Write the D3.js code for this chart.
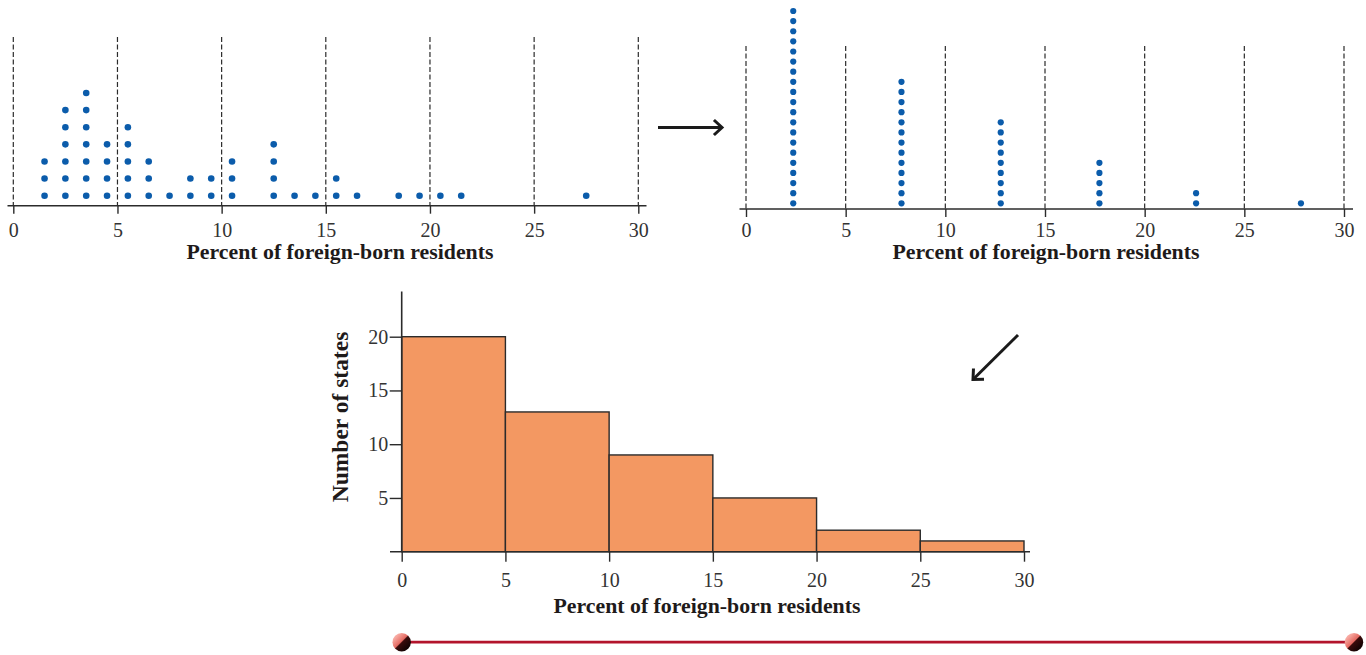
<!DOCTYPE html>
<html>
<head>
<meta charset="utf-8">
<script src="https://cdn.jsdelivr.net/npm/d3@7/dist/d3.min.js"></script>
<style>
  html, body { margin: 0; padding: 0; background: #fff; }
  svg { display: block; }
</style>
</head>
<body>
<svg id="chart" width="1366" height="655"></svg>
<script>
// ---------- DATA ----------
// Detailed dotplot (one dot per state, 1-percent classes)
const dotValues = [1.5, 2.5, 3.5, 4.5, 5.5, 6.5, 7.5, 8.5, 9.5, 10.5, 12.5, 13.5, 14.5, 15.5, 16.5, 18.5, 19.5, 20.5, 21.5, 27.5];
const dotCounts = [3, 6, 7, 4, 5, 3, 1, 2, 2, 3, 4, 1, 1, 2, 1, 1, 1, 1, 1, 1];
// Grouped dotplot (5-percent classes)
const groupPositions = [2.37, 7.8, 12.78, 17.73, 22.58, 27.84];
const groupCounts = [20, 13, 9, 5, 2, 1];
// Histogram
const binEdges = [0, 5, 10, 15, 20, 25, 30];
const binCounts = [20, 13, 9, 5, 2, 1];
const xTicks = [0, 5, 10, 15, 20, 25, 30];
const yTicks = [5, 10, 15, 20];
const xLabel = "Percent of foreign-born residents";
const yLabel = "Number of states";

// ---------- DRAWING ----------
const SERIF = "'Liberation Serif', 'Times New Roman', Times, 'DejaVu Serif', serif";
const svg = d3.select("#chart");
const ink = "#2b2b2b";
const dotColor = "#0b5cab";

function styleTickText(sel) {
  sel.attr("fill", "#333")
    .style("font-family", SERIF).style("font-size", "20px");
}
function styleTitle(sel, size) {
  sel.style("font-family", SERIF).style("font-size", size + "px")
    .style("font-weight", "bold").attr("fill", "#1e1a1a");
}

function dotPanel(opts) {
  const g = svg.append("g");
  const x = d3.scaleLinear().domain([0, 30]).range(opts.xRange);
  g.selectAll("line.guide").data(xTicks).join("line")
    .attr("x1", d => x(d)).attr("x2", d => x(d))
    .attr("y1", opts.guideTop).attr("y2", opts.axisY)
    .attr("stroke", ink).attr("stroke-width", 1.2)
    .attr("stroke-dasharray", "5,2.5");
  const axis = d3.axisBottom(x).tickValues(xTicks).tickSize(8).tickPadding(opts.pad).tickSizeOuter(0);
  const ag = g.append("g").attr("transform", `translate(0,${opts.axisY})`).call(axis);
  ag.attr("font-family", null).attr("font-size", null);
  ag.select(".domain").remove();
  ag.selectAll(".tick line").attr("stroke", ink).attr("stroke-width", 1.4);
  styleTickText(ag.selectAll(".tick text"));
  g.append("line").attr("x1", opts.axisExtent[0]).attr("x2", opts.axisExtent[1])
    .attr("y1", opts.axisY).attr("y2", opts.axisY)
    .attr("stroke", ink).attr("stroke-width", 1.5);
  const t = g.append("text").attr("x", opts.labelX).attr("y", opts.labelY)
    .attr("text-anchor", "middle").text(xLabel);
  styleTitle(t, 21.8);
  return { g, x };
}

// Left dotplot
{
  const { g, x } = dotPanel({ xRange: [13.3, 638.3], axisY: 205.7, guideTop: 37, axisExtent: [7.5, 646.5], labelX: 340, labelY: 259, pad: 9 });
  const y = d3.scaleLinear().domain([0, 7]).range([212.8, 93]);
  const pts = [];
  dotValues.forEach((v, i) => { for (let k = 1; k <= dotCounts[i]; k++) pts.push({ v, k }); });
  g.selectAll("circle").data(pts).join("circle")
    .attr("cx", d => x(d.v)).attr("cy", d => y(d.k)).attr("r", 3.3).attr("fill", dotColor);
}

// Right dotplot
{
  const { g, x } = dotPanel({ xRange: [746, 1344], axisY: 209, guideTop: 46, axisExtent: [739.5, 1353], labelX: 1046, labelY: 259, pad: 6 });
  const y = d3.scaleLinear().domain([0, 20]).range([213.4, 11]);
  const pts = [];
  groupPositions.forEach((v, i) => { for (let k = 1; k <= groupCounts[i]; k++) pts.push({ v, k }); });
  g.selectAll("circle").data(pts).join("circle")
    .attr("cx", d => x(d.v)).attr("cy", d => y(d.k)).attr("r", 3.1).attr("fill", dotColor);
}

// Histogram
{
  const g = svg.append("g");
  const x = d3.scaleLinear().domain([0, 30]).range([401.7, 1024]);
  const y = d3.scaleLinear().domain([0, 20]).range([551.7, 336.7]);
  const bins = binCounts.map((c, i) => ({ x0: binEdges[i], x1: binEdges[i + 1], c }));
  g.selectAll("rect").data(bins).join("rect")
    .attr("x", d => x(d.x0)).attr("width", d => x(d.x1) - x(d.x0))
    .attr("y", d => y(d.c)).attr("height", d => y(0) - y(d.c))
    .attr("fill", "#f39862").attr("stroke", ink).attr("stroke-width", 1.4);
  const xa = d3.axisBottom(x).tickValues(xTicks).tickSize(10).tickPadding(11).tickSizeOuter(0);
  const xg = g.append("g").attr("transform", `translate(0,${y(0)})`).call(xa);
  xg.attr("font-family", null).attr("font-size", null);
  xg.select(".domain").remove();
  xg.selectAll(".tick line").attr("stroke", ink).attr("stroke-width", 1.4);
  styleTickText(xg.selectAll(".tick text"));
  g.append("line").attr("x1", 390).attr("x2", 1030).attr("y1", y(0)).attr("y2", y(0))
    .attr("stroke", ink).attr("stroke-width", 1.6);
  const ya = d3.axisLeft(y).tickValues(yTicks).tickSize(12).tickPadding(1.5).tickSizeOuter(0);
  const yg = g.append("g").attr("transform", `translate(${x(0)},0)`).call(ya);
  yg.attr("font-family", null).attr("font-size", null);
  yg.select(".domain").remove();
  yg.selectAll(".tick line").attr("stroke", ink).attr("stroke-width", 1.4);
  styleTickText(yg.selectAll(".tick text"));
  g.append("line").attr("x1", x(0)).attr("x2", x(0)).attr("y1", y(24.2)).attr("y2", y(0))
    .attr("stroke", ink).attr("stroke-width", 1.6);
  const t1 = g.append("text").attr("x", 707).attr("y", 612.5)
    .attr("text-anchor", "middle").text(xLabel);
  styleTitle(t1, 21.8);
  const t2 = g.append("text").attr("transform", "translate(348,417) rotate(-90)")
    .attr("text-anchor", "middle").text(yLabel);
  styleTitle(t2, 23.5);
}

// Arrows
function arrow(x1, y1, x2, y2) {
  const a = Math.atan2(y2 - y1, x2 - x1);
  const L = 11, spread = Math.PI / 4.2;
  svg.append("line").attr("x1", x1).attr("y1", y1).attr("x2", x2).attr("y2", y2)
    .attr("stroke", "#1a1a1a").attr("stroke-width", 3);
  const p = [
    [x2 - L * Math.cos(a - spread), y2 - L * Math.sin(a - spread)],
    [x2, y2],
    [x2 - L * Math.cos(a + spread), y2 - L * Math.sin(a + spread)]
  ];
  svg.append("path").attr("d", d3.line()(p)).attr("fill", "none")
    .attr("stroke", "#1a1a1a").attr("stroke-width", 3).attr("stroke-linejoin", "miter");
}
arrow(658, 127.5, 722, 127.5);
arrow(1018, 335, 973, 379.5);

// Bottom rule with spheres
const defs = svg.append("defs");
const grad = defs.append("linearGradient").attr("id", "ball")
  .attr("x1", "20%").attr("y1", "20%").attr("x2", "80%").attr("y2", "80%");
[["0%", "#f7a8a0"], ["45%", "#e46a62"], ["52%", "#3a0b0b"], ["100%", "#150404"]]
  .forEach(([o, c]) => grad.append("stop").attr("offset", o).attr("stop-color", c));
svg.append("line").attr("x1", 401.7).attr("x2", 1354).attr("y1", 642.2).attr("y2", 642.2)
  .attr("stroke", "#b3142c").attr("stroke-width", 2.8);
[401.7, 1354].forEach(cx => svg.append("circle").attr("cx", cx).attr("cy", 642.2).attr("r", 9.2).attr("fill", "url(#ball)"));
</script>
</body>
</html>
